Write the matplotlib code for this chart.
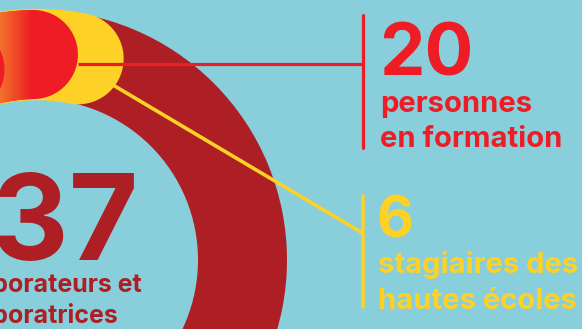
import numpy as np
import matplotlib
matplotlib.use("Agg")
import matplotlib.pyplot as plt
from matplotlib.patches import Polygon, Wedge
from matplotlib.colors import LinearSegmentedColormap

# ---- data ----
counts = [137, 20, 6]
count_labels = ["137", "20", "6"]
desc_total = ["collaborateurs et", "collaboratrices"]
desc_formation = ["personnes", "en formation"]
desc_stagiaires = ["stagiaires des", "hautes écoles"]

# ---- style ----
BG = "#89CFDB"
DARK = "#AD1F24"
RED = "#EE1C25"
ORANGE = "#F47B2B"
YELLOW = "#FDD126"
FONT = "Inter"

W, H = 582, 329
fig = plt.figure(figsize=(W / 100, H / 100), dpi=100)
fig.patch.set_facecolor(BG)
ax = fig.add_axes([0, 0, 1, 1])
ax.set_xlim(0, W)
ax.set_ylim(H, 0)
ax.set_aspect("equal")
ax.axis("off")

cx, cy = 37.0, 260.0
r_in, r_out = 161.0, 250.0


def band(phi_s, phi_e, ri, ro, n=200):
    """Arc band with round caps; angles in degrees clockwise from top."""
    rm = (ri + ro) / 2
    h = (ro - ri) / 2
    ph = np.radians(np.linspace(phi_s, phi_e, n))
    outer = np.c_[cx + ro * np.sin(ph), cy - ro * np.cos(ph)]
    inner = np.c_[cx + ri * np.sin(ph[::-1]), cy - ri * np.cos(ph[::-1])]
    a = np.linspace(0, np.pi, 60)

    def cap(phi, sign):
        p = np.radians(phi)
        c = np.array([cx + rm * np.sin(p), cy - rm * np.cos(p)])
        u = np.array([np.sin(p), -np.cos(p)])
        t = np.array([np.cos(p), np.sin(p)])
        return c + h * (sign * np.outer(np.cos(a), u) + sign * np.outer(np.sin(a), t))

    end_cap = cap(phi_e, 1)
    start_cap = cap(phi_s, -1)
    return np.vstack([outer, end_cap, inner, start_cap])


# full ring (total)
ax.add_patch(Wedge((cx, cy), r_out, 0, 360, width=r_out - r_in, facecolor=DARK, edgecolor="none"))

# stagiaires arc (yellow), ends further clockwise
red_end = -1.0
yellow_end = 11.5
ax.add_patch(Polygon(band(-70, yellow_end, r_in - 1.2, r_out + 1.2), closed=True,
                     facecolor=YELLOW, edgecolor="none"))

# formation arc (red with orange gradient on the left)
red_pts = band(-70, red_end, r_in, r_out)
ax.add_patch(Polygon(red_pts, closed=True, facecolor=RED, edgecolor="none", zorder=1.5))
clip_poly = Polygon(red_pts, closed=True, facecolor="none", edgecolor="none")
ax.add_patch(clip_poly)
cmap = LinearSegmentedColormap.from_list("og", [ORANGE, RED])
grad = np.linspace(0, 1, 256).reshape(1, -1)
im = ax.imshow(grad, cmap=cmap, extent=[-3, 32, 130, -10], aspect="auto", zorder=2)
im.set_clip_path(clip_poly)
ax.add_patch(Polygon(band(-90, -22, r_in, r_out), closed=True, facecolor=RED,
                     edgecolor="none", zorder=3))
ax.set_xlim(0, W)
ax.set_ylim(H, 0)

# leader lines
ax.plot([78, 362.5], [63.5, 63.5], color=RED, lw=2.3, solid_capstyle="butt", zorder=4)
ax.plot([362.5, 362.5], [15, 148], color=RED, lw=2.3, solid_capstyle="round", zorder=4)
ax.plot([113, 362.5], [85, 233], color=YELLOW, lw=2.6, solid_capstyle="butt", zorder=4)
ax.plot([362.5, 362.5], [196, 307], color=YELLOW, lw=2.6, solid_capstyle="round", zorder=4)

# texts
kw = dict(fontfamily=FONT, fontweight="bold", va="baseline", zorder=5)
ax.text(139, 260, count_labels[0], color=DARK, fontsize=86, ha="right", **kw)

# left-aligned two-line caption, right end of first line at x=142
t1 = ax.text(0, 292, desc_total[0], color=DARK, fontsize=18, ha="left", **kw)
fig.canvas.draw()
bb = t1.get_window_extent()
x0 = 142 - bb.width
t1.set_x(x0)
ax.text(x0, 323, desc_total[1], color=DARK, fontsize=18, ha="left", **kw)

ax.text(379, 75, count_labels[1], color=RED, fontsize=52, ha="left", **kw)
ax.text(380, 112, desc_formation[0], color=RED, fontsize=21, ha="left", **kw)
ax.text(380, 147, desc_formation[1], color=RED, fontsize=21, ha="left", **kw)

ax.text(376, 238, count_labels[2], color=YELLOW, fontsize=41, ha="left", **kw)
ax.text(378, 273, desc_stagiaires[0], color=YELLOW, fontsize=21, ha="left", **kw)
ax.text(378, 309, desc_stagiaires[1], color=YELLOW, fontsize=21, ha="left", **kw)

fig.savefig("out.png", dpi=100, facecolor=BG)
